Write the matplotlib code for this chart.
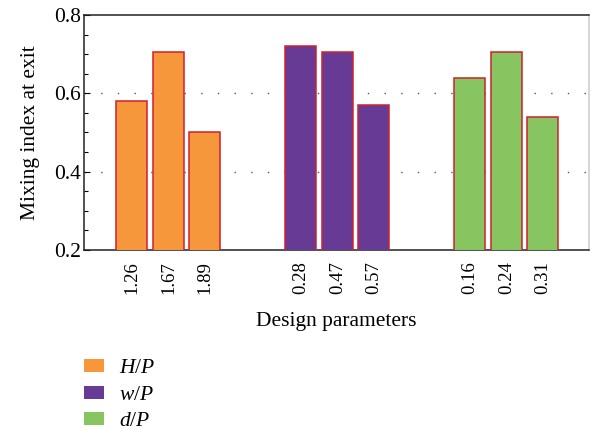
import matplotlib
matplotlib.use("Agg")
import matplotlib.pyplot as plt
from matplotlib.patches import Patch
from matplotlib.ticker import MultipleLocator

plt.rcParams['font.family'] = 'Liberation Serif'
plt.rcParams['mathtext.fontset'] = 'custom'
plt.rcParams['mathtext.rm'] = 'Liberation Serif'
plt.rcParams['mathtext.it'] = 'Liberation Serif:italic'

# mixing index at the channel exit for each design parameter value
hp_labels = ['1.26', '1.67', '1.89']
hp_values = [0.58, 0.706, 0.50]
wp_labels = ['0.28', '0.47', '0.57']
wp_values = [0.721, 0.706, 0.57]
dp_labels = ['0.16', '0.24', '0.31']
dp_values = [0.64, 0.706, 0.54]

groups = [
    (r'$H/P$', hp_labels, hp_values, '#F7973B'),
    (r'$w/P$', wp_labels, wp_values, '#663A95'),
    (r'$d/P$', dp_labels, dp_values, '#86C55F'),
]

fig = plt.figure(figsize=(5.9, 4.3), dpi=100)
ax = fig.add_axes([0.142, 0.419, 0.856, 0.546])

group_gap = 4.63
ticks, ticklabels, handles = [], [], []
for g, (name, labels, values, color) in enumerate(groups):
    xs = [g * group_gap + i for i in range(len(values))]
    ax.bar(xs, values, width=0.85, bottom=0, color=color,
           edgecolor='#D0202E', linewidth=1.1, zorder=3)
    ticks += xs
    ticklabels += labels
    handles.append(Patch(facecolor=color, edgecolor='none', label=name))

ax.set_ylim(0.2, 0.8)
ax.set_xlim(-1.32, 12.52)
ax.yaxis.set_major_locator(MultipleLocator(0.2))
ax.yaxis.set_minor_locator(MultipleLocator(0.05))
ax.tick_params(axis='y', which='both', direction='in', right=False,
               labelsize=15.5, length=4, width=0.8, pad=2)
ax.tick_params(axis='y', which='minor', length=3)
ax.set_xticks(ticks)
ax.set_xticklabels(ticklabels, rotation=90, fontsize=13.5)
ax.tick_params(axis='x', length=0, pad=8)

for y in (0.4, 0.6):
    ax.axhline(y, color='#555555', linewidth=1.0,
               linestyle=(0, (1, 11)), zorder=1)

for s in ax.spines.values():
    s.set_linewidth(1.1)
    s.set_color('#222222')
ax.spines['right'].set_color('#cccccc')

ax.set_ylabel('Mixing index at exit', fontsize=15.5, labelpad=10)
ax.set_xlabel('Design parameters', fontsize=15.5, labelpad=13)

fig.legend(handles=handles, loc='upper left', bbox_to_anchor=(0.128, 0.185),
           frameon=False, fontsize=15.5, handlelength=0.9, handleheight=0.55,
           handletextpad=0.7, labelspacing=0.35, borderaxespad=0)

fig.savefig('out.png', dpi=100)
